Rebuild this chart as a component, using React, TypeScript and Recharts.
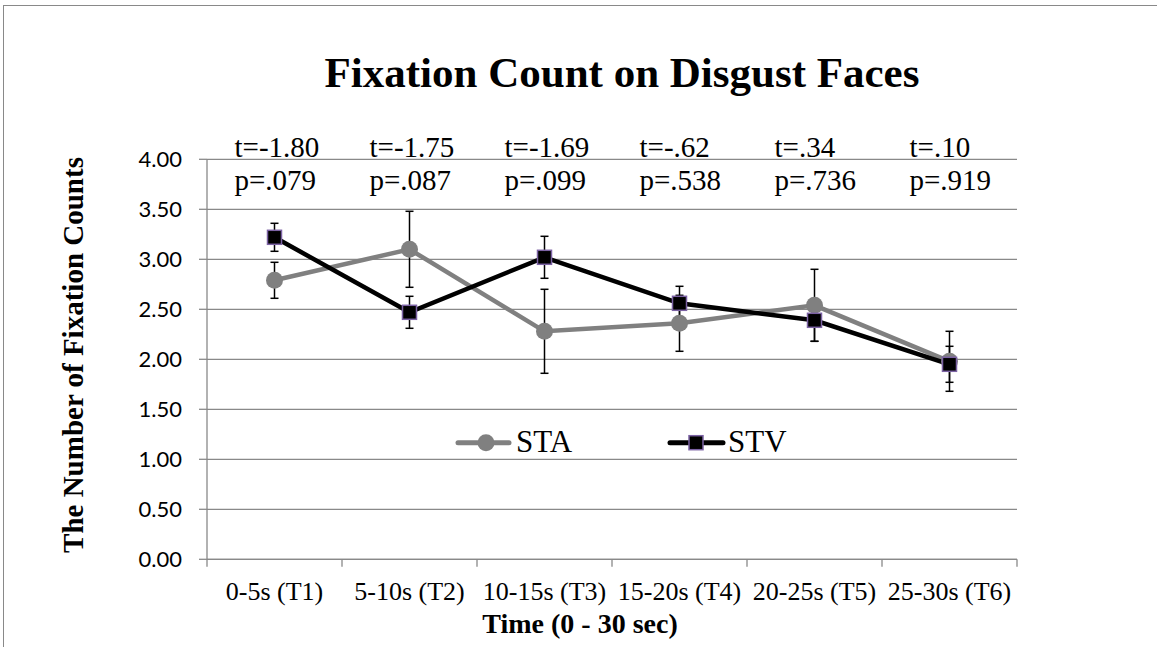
import React from 'react';
import {
  LineChart, Line, XAxis, YAxis, CartesianGrid, ErrorBar, ReferenceDot, Legend,
} from 'recharts';

const categories = ['0-5s (T1)', '5-10s (T2)', '10-15s (T3)', '15-20s (T4)', '20-25s (T5)', '25-30s (T6)'];
const staMeans = [2.79, 3.10, 2.28, 2.36, 2.54, 1.98];
const staErrors = [0.18, 0.38, 0.42, 0.28, 0.36, 0.30];
const stvMeans = [3.22, 2.47, 3.02, 2.56, 2.39, 1.95];
const stvErrors = [0.14, 0.16, 0.21, 0.17, 0.21, 0.18];
const tStats = ['t=-1.80', 't=-1.75', 't=-1.69', 't=-.62', 't=.34', 't=.10'];
const pValues = ['p=.079', 'p=.087', 'p=.099', 'p=.538', 'p=.736', 'p=.919'];
const yTicks = [0, 0.5, 1, 1.5, 2, 2.5, 3, 3.5, 4];

const data = categories.map((cat, i) => ({
  cat,
  sta: staMeans[i],
  staErr: staErrors[i],
  stv: stvMeans[i],
  stvErr: stvErrors[i],
}));

const W = 1157;
const H = 647;
const PLOT_LEFT = 207;
const PLOT_RIGHT = 1017;
const PLOT_TOP = 159.3;
const PLOT_BOTTOM = 559.3;
const HALF_BAND = (PLOT_RIGHT - PLOT_LEFT) / categories.length / 2;
const GRID = '#898989';
const SERIF = '"Liberation Serif", "Times New Roman", serif';
const PURPLE = '#7B62A3';

const XTick = (props: any) => {
  const { x, y, payload, index } = props;
  return (
    <g>
      <line x1={x - HALF_BAND} x2={x - HALF_BAND} y1={y} y2={y + 7.5} stroke={GRID} strokeWidth={1.3} />
      {index === categories.length - 1 && (
        <line x1={x + HALF_BAND} x2={x + HALF_BAND} y1={y} y2={y + 7.5} stroke={GRID} strokeWidth={1.3} />
      )}
      <text x={x} y={y + 41} textAnchor="middle" fontFamily={SERIF} fontSize={26} fill="#000">
        {payload.value}
      </text>
    </g>
  );
};

const SquareDot = (props: any) => {
  const { cx, cy } = props;
  if (cx == null || cy == null) return null;
  return <rect x={cx - 7} y={cy - 7} width={14} height={14} fill="#000" stroke={PURPLE} strokeWidth={1.5} />;
};

const CircleDot = (props: any) => {
  const { cx, cy } = props;
  if (cx == null || cy == null) return null;
  return <circle cx={cx} cy={cy} r={8.5} fill="#808080" />;
};

const AnnoLabel = (props: any) => {
  const { viewBox, t, p } = props;
  if (!viewBox) return null;
  const x = viewBox.x + (viewBox.width || 0) / 2;
  const y = viewBox.y + (viewBox.height || 0) / 2;
  return (
    <g>
      <text x={x - 40} y={y - 2.6} fontFamily={SERIF} fontSize={29} fill="#000">{t}</text>
      <text x={x - 40} y={y + 30.7} fontFamily={SERIF} fontSize={29} fill="#000">{p}</text>
    </g>
  );
};

const LegendContent = () => (
  <svg width={340} height={40} style={{ display: 'block', overflow: 'visible' }}>
    <line x1={4} x2={55} y1={20.7} y2={20.7} stroke="#808080" strokeWidth={5} strokeLinecap="round" />
    <circle cx={32} cy={20.7} r={8.5} fill="#808080" />
    <text x={62} y={30.3} fontFamily={SERIF} fontSize={31} fill="#000">STA</text>
    <line x1={216} x2={269} y1={20.7} y2={20.7} stroke="#000" strokeWidth={5} strokeLinecap="round" />
    <rect x={235} y={13.7} width={14} height={14} fill="#000" stroke={PURPLE} strokeWidth={1.5} />
    <text x={274} y={30.3} fontFamily={SERIF} fontSize={31} fill="#000">STV</text>
  </svg>
);

export default function App() {
  return (
    <div style={{ position: 'absolute', left: 0, top: 0, width: W, height: H, overflow: 'hidden', background: '#fff' }}>
      <div
        style={{
          position: 'absolute', left: 3, top: 5, width: W + 50, height: H + 50,
          borderLeft: `1.5px solid ${GRID}`, borderTop: `1.5px solid ${GRID}`, boxSizing: 'border-box',
        }}
      />
      <div style={{ position: 'absolute', left: 0, top: 0 }}>
        <LineChart
          width={W}
          height={H}
          data={data}
          margin={{ top: PLOT_TOP, right: W - PLOT_RIGHT, bottom: 0, left: 0 }}
          style={{ fontFamily: SERIF }}
        >
          <CartesianGrid vertical={false} stroke={GRID} strokeWidth={1.3} />
          <XAxis
            dataKey="cat"
            height={H - PLOT_BOTTOM}
            padding={{ left: HALF_BAND, right: HALF_BAND }}
            tickLine={false}
            tickSize={0}
            tickMargin={0}
            interval={0}
            axisLine={{ stroke: GRID, strokeWidth: 1.3 }}
            tick={<XTick />}
          />
          <YAxis
            domain={[0, 4]}
            ticks={yTicks}
            interval={0}
            width={PLOT_LEFT}
            tickFormatter={(v: number) => v.toFixed(2)}
            tick={{ fontFamily: 'Lato', fontSize: 22, fill: '#000' }}
            tickLine={{ stroke: GRID, strokeWidth: 1.3 }}
            tickSize={8}
            tickMargin={17}
            axisLine={{ stroke: GRID, strokeWidth: 1.3 }}
          />
          <Legend
            layout="vertical"
            align="center"
            verticalAlign="middle"
            content={<LegendContent />}
            wrapperStyle={{ position: 'absolute', left: 454, top: 422, width: 340, height: 40 }}
          />
          <Line
            type="linear"
            dataKey="sta"
            name="STA"
            stroke="#808080"
            strokeWidth={4.5}
            dot={<CircleDot />}
            activeDot={false}
            isAnimationActive={false}
          >
            <ErrorBar dataKey="staErr" width={4} strokeWidth={1.5} stroke="#000" direction="y" />
          </Line>
          <Line
            type="linear"
            dataKey="stv"
            name="STV"
            stroke="#000"
            strokeWidth={4.5}
            dot={<SquareDot />}
            activeDot={false}
            isAnimationActive={false}
          >
            <ErrorBar dataKey="stvErr" width={4} strokeWidth={1.5} stroke="#000" direction="y" />
          </Line>
          {categories.map((cat, i) => (
            <ReferenceDot
              key={cat}
              x={cat}
              y={4}
              r={0}
              fill="none"
              stroke="none"
              ifOverflow="visible"
              label={<AnnoLabel t={tStats[i]} p={pValues[i]} />}
            />
          ))}
        </LineChart>
      </div>
      <svg width={W} height={H} style={{ position: 'absolute', left: 0, top: 0, pointerEvents: 'none' }}>
        <text x={622} y={87} textAnchor="middle" fontFamily={SERIF} fontWeight="bold" fontSize={43} fill="#000">
          Fixation Count on Disgust Faces
        </text>
        <text
          x={0}
          y={0}
          transform="translate(83, 355) rotate(-90)"
          textAnchor="middle"
          fontFamily={SERIF}
          fontWeight="bold"
          fontSize={29}
          fill="#000"
        >
          The Number of Fixation Counts
        </text>
        <text x={580} y={633} textAnchor="middle" fontFamily={SERIF} fontWeight="bold" fontSize={28} fill="#000">
          Time (0 - 30 sec)
        </text>
      </svg>
    </div>
  );
}
